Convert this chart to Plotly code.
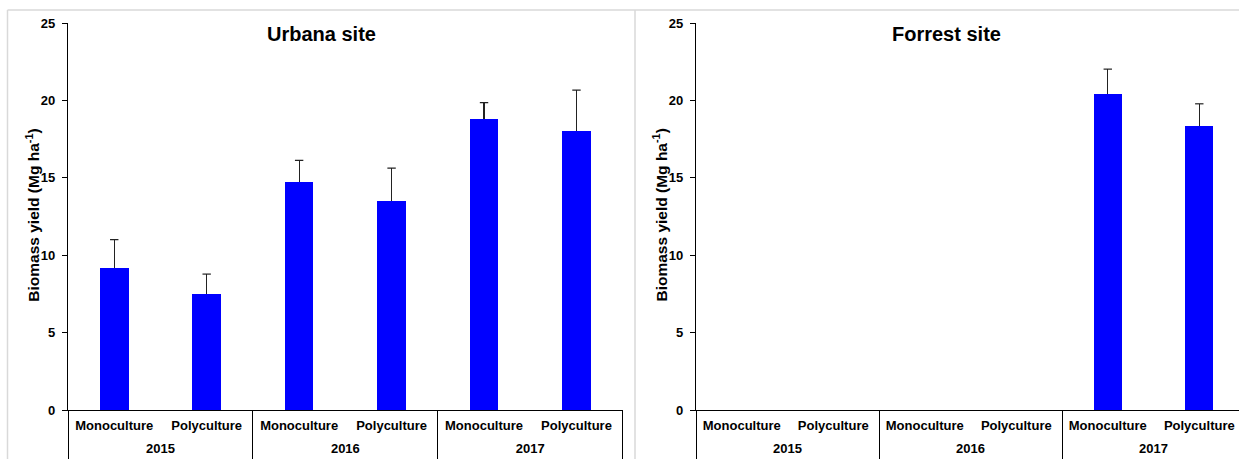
import plotly.graph_objects as go

years = ["2015", "2015", "2016", "2016", "2017", "2017"]
systems = ["Monoculture", "Polyculture", "Monoculture", "Polyculture", "Monoculture", "Polyculture"]

urbana_yield = [9.15, 7.47, 14.72, 13.53, 18.81, 18.02]
urbana_err = [1.85, 1.31, 1.40, 2.10, 1.04, 2.65]

forrest_yield = [None, None, None, None, 20.43, 18.37]
forrest_err = [0, 0, 0, 0, 1.59, 1.41]

y_ticks = [0, 5, 10, 15, 20, 25]

FONT = "Liberation Sans, Arial, sans-serif"
BLUE = "#0000FF"
W, H = 1239, 459
MT = 23
AXIS_Y = 410                      # pixel row of the x axis line
plot_h = H - MT
y_dom0 = (H - AXIS_Y) / plot_h    # y domain start so that the axis sits at AXIS_Y

pos = list(range(len(systems)))
year_cats = list(dict.fromkeys(years))


def px_x(p):
    return p / W


def px_y(p):
    return (H - p) / plot_h


fig = go.Figure()

panels = [
    (urbana_yield, urbana_err, "x", "y", "x3"),
    (forrest_yield, forrest_err, "x2", "y2", "x4"),
]
for vals, errs, xa, ya, xyear in panels:
    tops = [None if v is None else v + e for v, e in zip(vals, errs)]
    fig.add_trace(go.Bar(
        x=pos, y=vals, xaxis=xa, yaxis=ya, width=0.31,
        marker=dict(color=BLUE, line=dict(width=0)),
        error_y=dict(type="data", array=errs, arrayminus=[0] * len(errs), symmetric=False,
                     color="#222222", thickness=1.2, width=0),
        showlegend=False,
    ))
    # caps of the error bars
    fig.add_trace(go.Scatter(
        x=pos, y=tops, xaxis=xa, yaxis=ya, mode="markers",
        marker=dict(symbol="line-ew", size=6, color="#222222",
                    line=dict(color="#222222", width=1.2)),
        showlegend=False, hoverinfo="skip",
    ))
    # year categories for the lower label row
    fig.add_trace(go.Scatter(
        x=year_cats, y=[None] * len(year_cats), xaxis=xyear, yaxis=ya,
        mode="markers", showlegend=False, hoverinfo="skip",
    ))

tickfont = dict(family=FONT, size=13, color="black", weight="bold")

xsys = dict(
    type="linear", tickvals=pos, ticktext=systems, showline=True, linecolor="black",
    linewidth=1.3, ticks="", ticklabelstandoff=3, tickfont=tickfont,
    showgrid=False, zeroline=False, fixedrange=True, automargin=False,
)
xyr = dict(
    type="category", categoryorder="array", categoryarray=year_cats,
    anchor="free", position=y_dom0, side="bottom", showline=False,
    ticks="outside", tickson="boundaries", ticklen=H - AXIS_Y + 2, tickwidth=1.3,
    tickcolor="black", ticklabelstandoff=29, tickfont=tickfont,
    showgrid=False, zeroline=False, fixedrange=True, automargin=False,
)
ycommon = dict(
    range=[0, 25], tickvals=y_ticks, ticks="outside", ticklen=5, tickcolor="black",
    tickwidth=1.3, showline=True, linecolor="black", linewidth=1.3, showgrid=False,
    zeroline=False, ticklabelstandoff=4, tickfont=tickfont, domain=[y_dom0, 1],
    automargin=False,
)

left_dom = [px_x(68), px_x(622.7)]
right_dom = [px_x(696), 1]
right_max = 5.434

fig.update_layout(
    width=W, height=H,
    margin=dict(l=0, r=0, t=MT, b=0, pad=0, autoexpand=False),
    paper_bgcolor="white", plot_bgcolor="rgba(0,0,0,0)",
    bargap=0,
    xaxis=dict(domain=left_dom, range=[-0.5, 5.5], anchor="y", **xsys),
    yaxis=dict(anchor="x", **ycommon),
    xaxis2=dict(domain=right_dom, range=[-0.5, right_max], anchor="y2", **xsys),
    yaxis2=dict(anchor="x2", **ycommon),
    xaxis3=dict(domain=left_dom, overlaying="x", range=[-0.5, 2.5], **xyr),
    xaxis4=dict(domain=right_dom, overlaying="x2", range=[-0.5, (right_max + 0.5) / 2 - 0.5], **xyr),
)

# titles and y-axis titles
for tx, title, ytx in [(321, "Urbana site", 32.7), (946.7, "Forrest site", 660.5)]:
    fig.add_annotation(
        text=title, xref="paper", yref="paper", x=px_x(tx), y=px_y(34),
        xanchor="center", yanchor="middle", showarrow=False,
        font=dict(family=FONT, size=20, color="black", weight="bold"),
    )
    fig.add_annotation(
        text="Biomass yield (Mg ha<sup>-1</sup>)", xref="paper", yref="paper",
        x=px_x(ytx), y=px_y(215), textangle=-90,
        xanchor="center", yanchor="middle", showarrow=False,
        font=dict(family=FONT, size=15.5, color="black", weight="bold"),
    )

# light gray frame of the figure panels
gray = "#d9d9d9"
fig.add_shape(type="line", xref="paper", yref="paper", x0=px_x(7.5), x1=1.01,
              y0=px_y(10), y1=px_y(10), line=dict(color=gray, width=1.5))
fig.add_shape(type="line", xref="paper", yref="paper", x0=px_x(7.5), x1=px_x(7.5),
              y0=px_y(10), y1=px_y(470), line=dict(color=gray, width=1.5))
fig.add_shape(type="line", xref="paper", yref="paper", x0=px_x(635), x1=px_x(635),
              y0=px_y(10), y1=px_y(470), line=dict(color=gray, width=1.5))

fig.write_html("out.html")
